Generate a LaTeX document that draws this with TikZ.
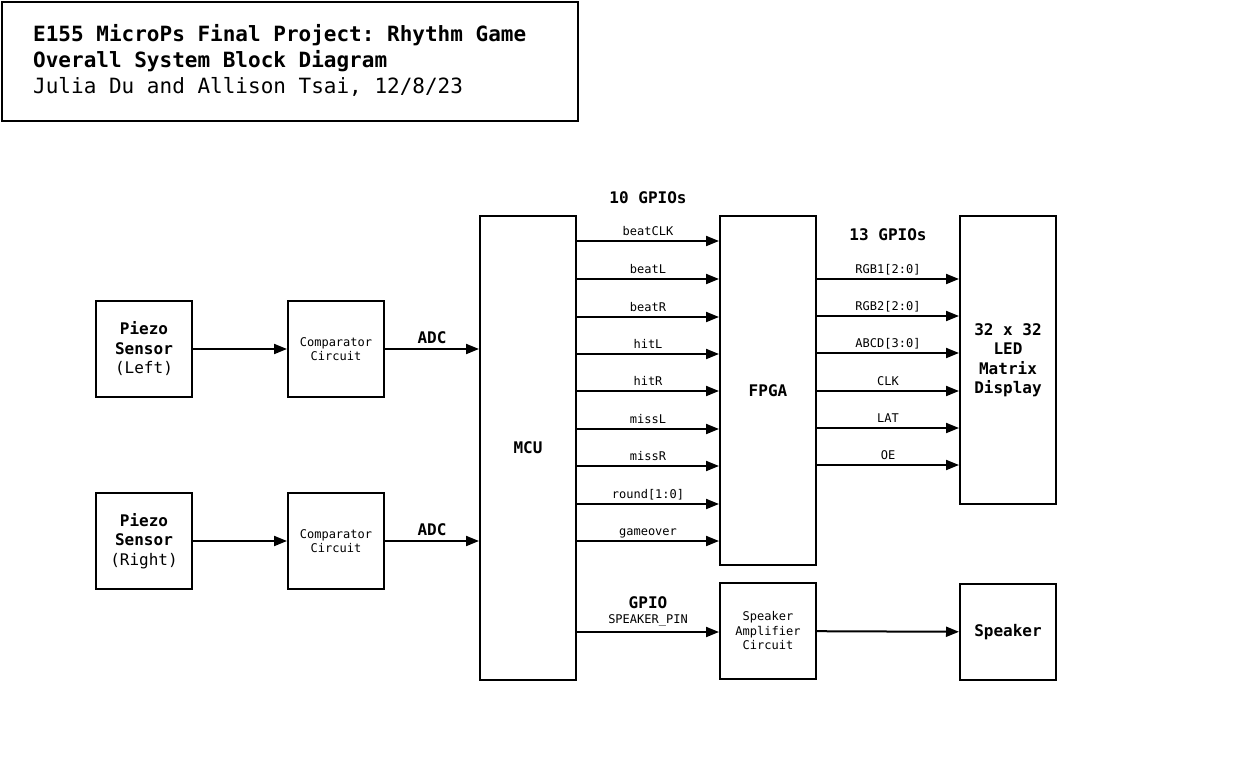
\documentclass[tikz,border=0pt]{standalone}
\usepackage{fontspec}
\setmonofont{DejaVu Sans Mono}
\usetikzlibrary{arrows.meta}
\begin{document}
\begin{tikzpicture}[x=1pt,y=-1pt,font=\ttfamily,
  blk/.style={draw,line width=2pt,inner sep=0pt,align=center,font=\ttfamily\fontsize{16}{19.5}\selectfont},
  sm/.style={font=\ttfamily\fontsize{12}{14.5}\selectfont},
  arr/.style={line width=2pt,-{Triangle[length=13pt,width=10pt]}},
  sig/.style={sm,anchor=base,inner sep=0pt},
  hd/.style={font=\ttfamily\bfseries\fontsize{16}{19.5}\selectfont,inner sep=0pt},
  ttl/.style={font=\ttfamily\fontsize{21}{25}\selectfont,anchor=base west,inner sep=0pt}]
\useasboundingbox (0,0) rectangle (1248,768);
% title
\node[draw,line width=2pt,minimum width=576pt,minimum height=119pt,anchor=north west,inner sep=0pt] (title) at (1,1) {};
\node[ttl] (t1) at (33,42) {\textbf{E155 MicroPs Final Project: Rhythm Game}};
\node[ttl] (t2) at (33,68) {\textbf{Overall System Block Diagram}};
\node[ttl] (t3) at (33,93) {Julia Du and Allison Tsai, 12/8/23};
% blocks
\node[blk,minimum width=96pt,minimum height=96pt] (pzl) at (144,349) {\textbf{Piezo}\\\textbf{Sensor}\\(Left)};
\node[blk,sm,minimum width=96pt,minimum height=96pt] (cpl) at (336,349) {Comparator\\Circuit};
\node[blk,minimum width=96pt,minimum height=96pt] (pzr) at (144,541) {\textbf{Piezo}\\\textbf{Sensor}\\(Right)};
\node[blk,sm,minimum width=96pt,minimum height=96pt] (cpr) at (336,541) {Comparator\\Circuit};
\node[blk,minimum width=96pt,minimum height=464pt] (mcu) at (528,448) {\textbf{MCU}};
\node[blk,minimum width=96pt,minimum height=349pt] (fpga) at (768,390.5) {\textbf{FPGA}};
\node[blk,minimum width=96pt,minimum height=288pt] (led) at (1008,360) {\textbf{32 x 32}\\\textbf{LED}\\\textbf{Matrix}\\\textbf{Display}};
\node[blk,sm,minimum width=96pt,minimum height=96pt] (amp) at (768,631) {Speaker\\Amplifier\\Circuit};
\node[blk,minimum width=96pt,minimum height=96pt] (spk) at (1008,632) {\textbf{Speaker}};
% headings
\node[hd] (g10) at (648,198) {10 GPIOs};
\node[hd] (g13) at (888,235) {13 GPIOs};
% sensor chain
\draw[arr] (pzl) -- (cpl);
\draw[arr] (cpl) -- (mcu.west |- cpl) node[hd,midway,anchor=base,yshift=6pt] {ADC};
\draw[arr] (pzr) -- (cpr);
\draw[arr] (cpr) -- (mcu.west |- cpr) node[hd,midway,anchor=base,yshift=6pt] {ADC};
% MCU -> FPGA
\foreach \yy/\tt in {241/beatCLK,279/beatL,317/beatR,354/hitL,391/hitR,429/missL,466/missR,504/round[1:0],541/gameover}{
  \draw[arr] (mcu.east |- 0,\yy) -- (fpga.west |- 0,\yy) node[sig,midway,yshift=6pt] {\tt};
}
% FPGA -> LED
\foreach \yy/\tt in {279/RGB1[2:0],316/RGB2[2:0],353/ABCD[3:0],391/CLK,428/LAT,465/OE}{
  \draw[arr] (fpga.east |- 0,\yy) -- (led.west |- 0,\yy) node[sig,midway,yshift=6pt] {\tt};
}
% speaker
\draw[arr] (mcu.east |- 0,632) -- (amp.west |- 0,632)
  node[sig,midway,yshift=8.6pt] {SPEAKER\_PIN}
  node[hd,midway,anchor=base,yshift=24pt] {GPIO};
\draw[arr] (amp) -- (spk);
\end{tikzpicture}
\end{document}
